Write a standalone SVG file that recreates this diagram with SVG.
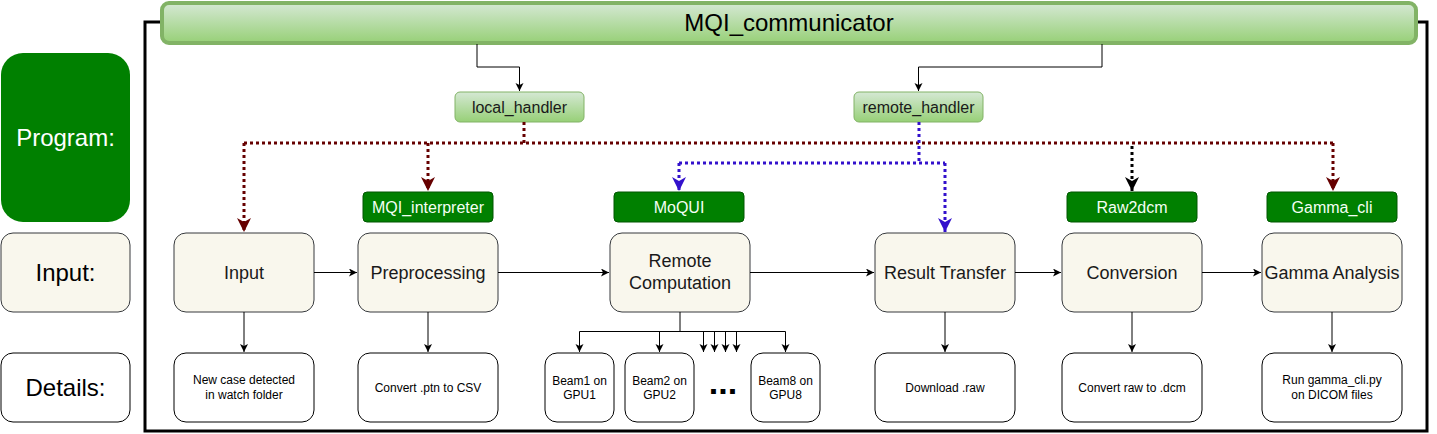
<svg xmlns="http://www.w3.org/2000/svg" width="1437" height="434" viewBox="0 0 1437 434">
<defs>
<linearGradient id="gGreen" x1="0" y1="0" x2="0" y2="1">
<stop offset="0" stop-color="#d5e8d4"/>
<stop offset="1" stop-color="#97d077"/>
</linearGradient>
<marker id="aBlk" markerUnits="userSpaceOnUse" markerWidth="10" markerHeight="10" refX="8" refY="4" orient="auto">
<path d="M0,0 L8,4 L0,8 L2,4 z" fill="#000"/>
</marker>
<marker id="aRed" markerUnits="userSpaceOnUse" markerWidth="16" markerHeight="16" refX="14" refY="7" orient="auto">
<path d="M0,0 L14,7 L0,14 L4,7 z" fill="#660000"/>
</marker>
<marker id="aBlue" markerUnits="userSpaceOnUse" markerWidth="16" markerHeight="16" refX="14" refY="7" orient="auto">
<path d="M0,0 L14,7 L0,14 L4,7 z" fill="#3311cc"/>
</marker>
<marker id="aDot" markerUnits="userSpaceOnUse" markerWidth="16" markerHeight="16" refX="14" refY="7" orient="auto">
<path d="M0,0 L14,7 L0,14 L4,7 z" fill="#000"/>
</marker>
</defs>
<style>
text{font-family:"Liberation Sans",Arial,sans-serif;text-anchor:middle}
.main rect{fill:#f9f7ed;stroke:#36393d;stroke-width:1}
.main text{font-size:18px;fill:#1a1a1a}
.det rect{fill:#fff;stroke:#000;stroke-width:1}
.det text{font-size:12px;fill:#000}
.prog rect{fill:#008000;stroke:#005700;stroke-width:1}
.prog text{font-size:16px;fill:#f4fff4}
.hand rect{fill:url(#gGreen);stroke:#82b366;stroke-width:1}
.hand text{font-size:16px;fill:#1a1a1a}
.lbl text{font-size:24px}
.c{fill:none;stroke:#000;stroke-width:1}
.dr{fill:none;stroke:#660000;stroke-width:3;stroke-dasharray:3 3}
.db{fill:none;stroke:#3311cc;stroke-width:3;stroke-dasharray:3 3}
.dk{fill:none;stroke:#000;stroke-width:3;stroke-dasharray:3 3}
</style>

<rect x="145" y="22" width="1282" height="409" fill="#fff" stroke="#000" stroke-width="3"/>

<g id="lbl-program" class="lbl"><rect x="1" y="53" width="129" height="169" rx="22" fill="#008000"/><text x="65.5" y="146" fill="#fff">Program:</text></g>
<g id="lbl-input" class="lbl"><rect x="1" y="233" width="129" height="79" rx="12" fill="#f9f7ed" stroke="#36393d"/><text x="65.5" y="281" fill="#000">Input:</text></g>
<g id="lbl-details" class="lbl"><rect x="1" y="353" width="129" height="69" rx="12" fill="#fff" stroke="#000"/><text x="65.5" y="396" fill="#000">Details:</text></g>

<g id="mqi-communicator"><rect x="162" y="3" width="1254" height="40" rx="7" fill="url(#gGreen)" stroke="#82b366" stroke-width="4"/><text x="789" y="31" font-size="24" fill="#000">MQI_communicator</text></g>

<g id="local-handler" class="hand"><rect x="455" y="92" width="129" height="30" rx="5"/><text x="519.5" y="113">local_handler</text></g>
<g id="remote-handler" class="hand"><rect x="854" y="92" width="129" height="30" rx="5"/><text x="918.5" y="113">remote_handler</text></g>

<g id="p-interp" class="prog"><rect x="363" y="192" width="130" height="30" rx="4"/><text x="428" y="213">MQI_interpreter</text></g>
<g id="p-moqui" class="prog"><rect x="614" y="192" width="130" height="30" rx="4"/><text x="679" y="213">MoQUI</text></g>
<g id="p-raw2dcm" class="prog"><rect x="1067" y="192" width="130" height="30" rx="4"/><text x="1132" y="213">Raw2dcm</text></g>
<g id="p-gamma" class="prog"><rect x="1267" y="192" width="130" height="30" rx="4"/><text x="1332" y="213">Gamma_cli</text></g>

<g id="n-input" class="main"><rect x="174" y="233" width="140" height="79" rx="12"/><text x="244" y="279">Input</text></g>
<g id="n-pre" class="main"><rect x="358" y="233" width="140" height="79" rx="12"/><text x="428" y="279">Preprocessing</text></g>
<g id="n-remote" class="main"><rect x="610" y="233" width="140" height="79" rx="12"/><text x="680" y="267">Remote</text><text x="680" y="289">Computation</text></g>
<g id="n-result" class="main"><rect x="875" y="233" width="140" height="79" rx="12"/><text x="945" y="279">Result Transfer</text></g>
<g id="n-conv" class="main"><rect x="1062" y="233" width="140" height="79" rx="12"/><text x="1132" y="279">Conversion</text></g>
<g id="n-gamma" class="main"><rect x="1262" y="233" width="140" height="79" rx="12"/><text x="1332" y="279">Gamma Analysis</text></g>

<g id="d-input" class="det"><rect x="174" y="353" width="140" height="69" rx="12"/><text x="244" y="384">New case detected</text><text x="244" y="399">in watch folder</text></g>
<g id="d-pre" class="det"><rect x="358" y="353" width="140" height="69" rx="12"/><text x="428" y="392">Convert .ptn to CSV</text></g>
<g id="d-beam1" class="det"><rect x="545" y="353" width="69" height="69" rx="12"/><text x="579.5" y="385">Beam1 on</text><text x="579.5" y="399">GPU1</text></g>
<g id="d-beam2" class="det"><rect x="625" y="353" width="69" height="69" rx="12"/><text x="659.5" y="385">Beam2 on</text><text x="659.5" y="399">GPU2</text></g>
<g id="d-dots"><text x="723" y="394" font-family="DejaVu Sans" font-weight="bold" font-size="34" fill="#000">...</text></g>
<g id="d-beam8" class="det"><rect x="751" y="353" width="69" height="69" rx="12"/><text x="785.5" y="385">Beam8 on</text><text x="785.5" y="399">GPU8</text></g>
<g id="d-result" class="det"><rect x="875" y="353" width="140" height="69" rx="12"/><text x="945" y="392">Download .raw</text></g>
<g id="d-conv" class="det"><rect x="1062" y="353" width="140" height="69" rx="12"/><text x="1132" y="392">Convert raw to .dcm</text></g>
<g id="d-gamma" class="det"><rect x="1262" y="353" width="140" height="69" rx="12"/><text x="1332" y="384">Run gamma_cli.py</text><text x="1332" y="399">on DICOM files</text></g>

<g id="connectors">
<path class="c" d="M477,44 V67 H519.5 V91" marker-end="url(#aBlk)"/>
<path class="c" d="M1102,44 V67 H918.5 V91" marker-end="url(#aBlk)"/>

<path class="c" d="M314,272.5 H357" marker-end="url(#aBlk)"/>
<path class="c" d="M498,272.5 H609" marker-end="url(#aBlk)"/>
<path class="c" d="M750,272.5 H874" marker-end="url(#aBlk)"/>
<path class="c" d="M1015,272.5 H1061" marker-end="url(#aBlk)"/>
<path class="c" d="M1202,272.5 H1261" marker-end="url(#aBlk)"/>

<path class="c" d="M244,312 V352" marker-end="url(#aBlk)"/>
<path class="c" d="M428,312 V352" marker-end="url(#aBlk)"/>
<path class="c" d="M945,312 V352" marker-end="url(#aBlk)"/>
<path class="c" d="M1132,312 V352" marker-end="url(#aBlk)"/>
<path class="c" d="M1332,312 V352" marker-end="url(#aBlk)"/>

<path class="c" d="M680,312 V331.5"/>
<path class="c" d="M579.5,331.5 H785.5"/>
<path class="c" d="M579.5,331.5 V352" marker-end="url(#aBlk)"/>
<path class="c" d="M659.5,331.5 V352" marker-end="url(#aBlk)"/>
<path class="c" d="M785.5,331.5 V352" marker-end="url(#aBlk)"/>
<path class="c" d="M703.5,331.5 V352" marker-end="url(#aBlk)"/>
<path class="c" d="M714.5,331.5 V352" marker-end="url(#aBlk)"/>
<path class="c" d="M725.5,331.5 V352" marker-end="url(#aBlk)"/>
<path class="c" d="M736.5,331.5 V352" marker-end="url(#aBlk)"/>

<path class="dr" d="M244,143 H1333"/>
<path class="dr" d="M524,122 V143"/>
<path class="dr" d="M244,143 V232" marker-end="url(#aRed)"/>
<path class="dr" d="M428,143 V191" marker-end="url(#aRed)"/>
<path class="dr" d="M1333,143 V191" marker-end="url(#aRed)"/>
<path class="dk" d="M1132,146 V191" marker-end="url(#aDot)"/>

<path class="db" d="M679,163 H945"/>
<path class="db" d="M919,122 V163"/>
<path class="db" d="M679,163 V191" marker-end="url(#aBlue)"/>
<path class="db" d="M945,163 V232" marker-end="url(#aBlue)"/>
</g>
</svg>
